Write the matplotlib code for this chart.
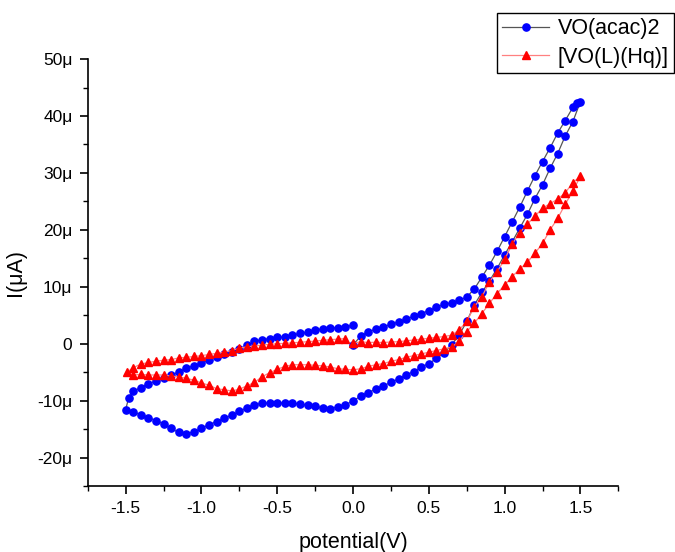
import matplotlib
matplotlib.use("Agg")
import matplotlib.pyplot as plt
from matplotlib.ticker import MultipleLocator, FuncFormatter

plt.rcParams['font.family'] = ['Liberation Sans', 'DejaVu Sans']

# VO(acac)2 : scan 0 -> -1.5 V, back up to +1.5 V, then down to 0 V  (current in uA)
acac_v = [0.0, -0.05, -0.10, -0.15, -0.20, -0.25, -0.30, -0.35, -0.40, -0.45,
          -0.50, -0.55, -0.60, -0.65, -0.70, -0.75, -0.80, -0.85, -0.90, -0.95,
          -1.00, -1.05, -1.10, -1.15, -1.20, -1.25, -1.30, -1.35, -1.40, -1.45,
          -1.48, -1.50,
          -1.45, -1.40, -1.35, -1.30, -1.25, -1.20, -1.15, -1.10, -1.05, -1.00,
          -0.95, -0.90, -0.85, -0.80, -0.75, -0.70, -0.65, -0.60, -0.55, -0.50,
          -0.45, -0.40, -0.35, -0.30, -0.25, -0.20, -0.15, -0.10, -0.05, 0.00,
          0.05, 0.10, 0.15, 0.20, 0.25, 0.30, 0.35, 0.40, 0.45, 0.50,
          0.55, 0.60, 0.65, 0.70, 0.75, 0.80, 0.85, 0.90, 0.95, 1.00,
          1.05, 1.10, 1.15, 1.20, 1.25, 1.30, 1.35, 1.40, 1.45, 1.50,
          1.48, 1.45, 1.40, 1.35, 1.30, 1.25, 1.20, 1.15, 1.10, 1.05, 1.00,
          0.95, 0.90, 0.85, 0.80, 0.75, 0.70, 0.65, 0.60, 0.55, 0.50,
          0.45, 0.40, 0.35, 0.30, 0.25, 0.20, 0.15, 0.10, 0.05, 0.00]
acac_i = [3.2, 3.0, 2.8, 2.8, 2.6, 2.4, 2.0, 1.8, 1.5, 1.2,
          1.1, 0.9, 0.7, 0.4, -0.3, -1.0, -1.5, -1.9, -2.3, -2.9,
          -3.4, -3.9, -4.3, -5.0, -5.5, -6.1, -6.6, -7.0, -7.7, -8.4,
          -9.5, -11.6,
          -12.0, -12.5, -13.0, -13.5, -14.1, -14.9, -15.6, -15.8, -15.5, -14.9,
          -14.2, -13.7, -13.1, -12.6, -11.9, -11.3, -10.7, -10.5, -10.4, -10.4,
          -10.4, -10.4, -10.6, -10.8, -11.0, -11.3, -11.4, -11.1, -10.7, -10.1,
          -9.2, -8.6, -8.0, -7.4, -6.8, -6.2, -5.5, -4.9, -4.1, -3.5,
          -2.6, -1.6, -0.2, 1.5, 3.9, 6.8, 9.0, 11.0, 13.2, 15.6,
          17.9, 20.3, 22.7, 25.5, 27.9, 30.8, 33.4, 36.5, 39.0, 42.5,
          42.2, 41.5, 39.2, 37.0, 34.4, 32.0, 29.5, 26.8, 24.0, 21.4, 18.8,
          16.2, 13.8, 11.7, 9.6, 8.2, 7.6, 7.2, 6.9, 6.4, 5.8,
          5.3, 4.8, 4.3, 3.8, 3.4, 2.9, 2.5, 2.1, 1.3, -0.2]

# [VO(L)(Hq)]
hq_v = [-0.05, -0.10, -0.15, -0.20, -0.25, -0.30, -0.35, -0.40, -0.45, -0.50,
        -0.55, -0.60, -0.65, -0.70, -0.75, -0.80, -0.85, -0.90, -0.95, -1.00,
        -1.05, -1.10, -1.15, -1.20, -1.25, -1.30, -1.35, -1.40, -1.45, -1.49,
        -1.45, -1.40, -1.35, -1.30, -1.25, -1.20, -1.15, -1.10, -1.05, -1.00,
        -0.95, -0.90, -0.85, -0.80, -0.75, -0.70, -0.65, -0.60, -0.55, -0.50,
        -0.45, -0.40, -0.35, -0.30, -0.25, -0.20, -0.15, -0.10, -0.05, 0.00,
        0.05, 0.10, 0.15, 0.20, 0.25, 0.30, 0.35, 0.40, 0.45, 0.50,
        0.55, 0.60, 0.65, 0.70, 0.75, 0.80, 0.85, 0.90, 0.95, 1.00,
        1.05, 1.10, 1.15, 1.20, 1.25, 1.30, 1.35, 1.40, 1.45, 1.50,
        1.45, 1.40, 1.35, 1.30, 1.25, 1.20, 1.15, 1.10, 1.05, 1.00,
        0.95, 0.90, 0.85, 0.80, 0.75, 0.70, 0.65, 0.60, 0.55, 0.50,
        0.45, 0.40, 0.35, 0.30, 0.25, 0.20, 0.15, 0.10, 0.05, 0.00]
hq_i = [0.9, 0.8, 0.7, 0.6, 0.45, 0.35, 0.25, 0.15, 0.05, 0.0,
        -0.1, -0.25, -0.4, -0.55, -0.8, -1.2, -1.5, -1.7, -1.9, -2.1,
        -2.25, -2.4, -2.5, -2.8, -2.9, -3.1, -3.3, -3.6, -4.2, -5.0,
        -5.5, -5.4, -5.5, -5.5, -5.5, -5.7, -5.8, -6.1, -6.4, -6.9,
        -7.3, -7.9, -8.1, -8.3, -8.0, -7.4, -6.8, -5.8, -5.1, -4.5,
        -4.0, -3.7, -3.7, -3.7, -3.8, -3.9, -4.1, -4.4, -4.5, -4.6,
        -4.4, -4.0, -3.7, -3.5, -3.1, -2.8, -2.4, -2.1, -1.8, -1.5,
        -1.2, -0.9, -0.6, 0.4, 2.1, 3.6, 5.3, 7.1, 8.8, 10.3,
        11.8, 13.1, 14.3, 15.9, 17.6, 20.0, 22.0, 24.5, 26.8, 29.4,
        28.3, 26.5, 25.4, 24.6, 23.8, 22.4, 21.0, 19.5, 17.5, 14.8,
        12.6, 10.9, 8.2, 6.5, 3.9, 2.4, 1.5, 1.25, 1.1, 0.95,
        0.8, 0.65, 0.5, 0.35, 0.3, 0.2, 0.25, 0.2, 0.35, 0.05]

fig = plt.figure(figsize=(6.75, 5.52), dpi=100)
ax = fig.add_axes([0.130, 0.1196, 0.786, 0.7734])

ax.plot(acac_v, acac_i, color='#555555', lw=0.9, marker='o', ms=5.2,
        mfc='#0000ff', mec='#0000ff', label='VO(acac)2')
ax.plot(hq_v, hq_i, color='#ff8080', lw=0.9, marker='^', ms=6.2,
        mfc='#ff0000', mec='#ff0000', label='[VO(L)(Hq)]')

ax.set_xlim(-1.75, 1.75)
ax.set_ylim(-25, 50)
ax.xaxis.set_major_locator(MultipleLocator(0.5))
ax.xaxis.set_minor_locator(MultipleLocator(0.25))
ax.yaxis.set_major_locator(MultipleLocator(10))
ax.yaxis.set_minor_locator(MultipleLocator(5))
ax.xaxis.set_major_formatter(FuncFormatter(lambda v, p: f"{v:.1f}"))
ax.yaxis.set_major_formatter(FuncFormatter(lambda v, p: "0" if abs(v) < 1e-9 else f"{v:.0f}μ"))

for s in ['top', 'right']:
    ax.spines[s].set_visible(False)
for s in ['left', 'bottom']:
    ax.spines[s].set_linewidth(1.2)
ax.tick_params(which='major', direction='out', length=6, width=1.2, labelsize=12.5, pad=5)
ax.tick_params(which='minor', direction='out', length=3.5, width=1.0)

ax.set_xlabel('potential(V)', fontsize=15.5, labelpad=11)
ax.set_ylabel('I(μA)', fontsize=15.5, labelpad=8)

leg = fig.legend(loc='upper right', bbox_to_anchor=(0.999, 0.977), fontsize=15.5,
                 frameon=True, fancybox=False, edgecolor='black', framealpha=1,
                 handlelength=2.2, labelspacing=0.35, borderpad=0.25,
                 handletextpad=0.4, borderaxespad=0)
leg.get_frame().set_linewidth(1.0)

fig.savefig('out.png', dpi=100)
